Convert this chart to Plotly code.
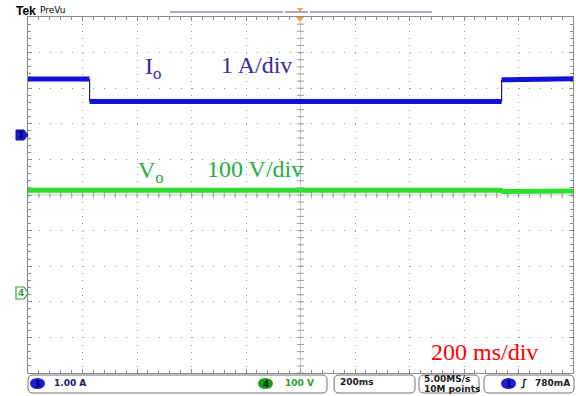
import plotly.graph_objects as go
import numpy as np

# Io (channel 1, 1 A/div): piecewise levels, segment boundaries in ms
io_seg_t0 = [-1000, -774, 738]
io_seg_t1 = [-774, 738, 1000]
io_seg_a0 = [1.57, 0.94, 1.55]
io_seg_a1 = [1.57, 0.94, 1.58]

# Vo (channel 4, 100 V/div)
vo_time = [-1000, -774, -766, -700, -690, 736, 742, 1000]
vo_volt = [288, 288, 291, 291, 288, 288, 285, 286]

# channel ground offsets (divisions from centre)
ch1_offset_div = 1.685
ch4_offset_div = -2.75
io_scale = 1.0     # A/div
vo_scale = 100.0   # V/div

status_labels = ["1.00 A", "100 V", "200ms", "5.00MS/s", "10M points", "780mA"]

# ---------------- helpers ----------------
W, H = 576, 396
L, R, T, B = 28, 3, 17, 23
PW, PH = W - L - R, H - T - B


def PX(x):
    return (x - L) / PW


def PY(y):
    return (H - B - y) / PH


def rrect(x0, y0, x1, y1, r=4):
    a0, a1 = PX(x0), PX(x1)
    b0, b1 = PY(y1), PY(y0)
    rx, ry = r / PW, r / PH
    return (f"M {a0+rx},{b0} L {a1-rx},{b0} Q {a1},{b0} {a1},{b0+ry} "
            f"L {a1},{b1-ry} Q {a1},{b1} {a1-rx},{b1} L {a0+rx},{b1} "
            f"Q {a0},{b1} {a0},{b1-ry} L {a0},{b0+ry} Q {a0},{b0} {a0+rx},{b0} Z")


fig = go.Figure()

# Io thick levels
xs, ys = [], []
for t0, t1, a0, a1 in zip(io_seg_t0, io_seg_t1, io_seg_a0, io_seg_a1):
    xs += [t0, t1, None]
    ys += [a0, a1, None]
fig.add_trace(go.Scatter(x=xs, y=ys, mode="lines", yaxis="y2",
                         line=dict(color="#1212dc", width=5), hoverinfo="skip"))
# Io thin transitions
tx, ty = [], []
for i in range(len(io_seg_t0) - 1):
    tx += [io_seg_t1[i], io_seg_t0[i + 1], None]
    ty += [io_seg_a1[i], io_seg_a0[i + 1], None]
fig.add_trace(go.Scatter(x=tx, y=ty, mode="lines", yaxis="y2",
                         line=dict(color="#202070", width=1.2), hoverinfo="skip"))
# Vo
fig.add_trace(go.Scatter(x=vo_time, y=vo_volt, mode="lines", yaxis="y3",
                         line=dict(color="#2ee02e", width=5), hoverinfo="skip"))

shapes = []
# centre cross lines with ticks
shapes.append(dict(type="line", xref="x", yref="y", x0=-1000, x1=1000, y0=0, y1=0,
                   line=dict(color="#d0d0d0", width=1), layer="below"))
shapes.append(dict(type="line", xref="x", yref="y", x0=0, x1=0, y0=-5, y1=5,
                   line=dict(color="#d0d0d0", width=1), layer="below"))
for t in np.arange(-1000, 1001, 40):
    shapes.append(dict(type="line", xref="x", yref="y", x0=t, x1=t, y0=-0.09, y1=0.09,
                       line=dict(color="#a0a0a0", width=1), layer="below"))
for v in np.arange(-5, 5.01, 0.2):
    shapes.append(dict(type="line", xref="x", yref="y", x0=-13, x1=13, y0=v, y1=v,
                       line=dict(color="#a0a0a0", width=1), layer="below"))

# top record bar
for a, b in [(170, 283), (285, 308), (310, 432)]:
    shapes.append(dict(type="line", xref="paper", yref="paper", x0=PX(a), x1=PX(b),
                       y0=PY(12), y1=PY(12), line=dict(color="#8c8cae", width=1.5)))
# trigger position markers (orange)
shapes.append(dict(type="path", xref="paper", yref="paper",
                   path=f"M {PX(297)},{PY(8)} L {PX(303)},{PY(8)} L {PX(300)},{PY(12)} Z",
                   fillcolor="#f0a030", line=dict(width=0)))
shapes.append(dict(type="path", xref="paper", yref="paper",
                   path=f"M {PX(296)},{PY(17)} L {PX(304)},{PY(17)} L {PX(300)},{PY(22)} Z",
                   fillcolor="#f0a030", line=dict(width=0)))

# left channel markers
shapes.append(dict(type="path", xref="paper", yref="paper",
                   path=(f"M {PX(16)},{PY(130)} L {PX(24)},{PY(130)} L {PX(28)},{PY(135)} "
                         f"L {PX(24)},{PY(140)} L {PX(16)},{PY(140)} Z"),
                   fillcolor="#1c1cd0", line=dict(color="#1010a0", width=1)))
shapes.append(dict(type="path", xref="paper", yref="paper",
                   path=(f"M {PX(16)},{PY(287)} L {PX(24)},{PY(287)} L {PX(28)},{PY(293)} "
                         f"L {PX(24)},{PY(299)} L {PX(16)},{PY(299)} Z"),
                   fillcolor="#ffffff", line=dict(color="#30a040", width=1.2)))

# status bar boxes
for x0, x1 in [(28, 327), (334, 415), (419, 479), (484, 574)]:
    shapes.append(dict(type="path", xref="paper", yref="paper", path=rrect(x0, 375, x1, 393, 5),
                       fillcolor="#ffffff", line=dict(color="#707070", width=1)))
# channel ellipses
for cx0, cx1, col in [(30, 45, "#1c1cd8"), (258, 273, "#1e9a1e"), (501, 516, "#1c1cd8")]:
    shapes.append(dict(type="circle", xref="paper", yref="paper",
                       x0=PX(cx0), x1=PX(cx1), y0=PY(389), y1=PY(378),
                       fillcolor=col, line=dict(width=0)))

anns = []


def txt(x, y, s, size, color, family="DejaVu Sans", xa="left", ya="middle", bold=False):
    if bold:
        s = f"<b>{s}</b>"
    anns.append(dict(x=PX(x), y=PY(y), xref="paper", yref="paper", text=s, showarrow=False,
                     xanchor=xa, yanchor=ya, font=dict(size=size, color=color, family=family)))


txt(14, 11, "Tek", 12, "#000000", bold=True, family="Liberation Sans")
txt(38, 10, "PreVu", 9, "#000000", family="DejaVu Sans")
txt(21, 135, "1", 9, "#000060", xa="center", bold=True)
txt(21, 293, "4", 9, "#30a040", xa="center", bold=True)

txt(37.5, 383.5, "1", 9, "#000050", xa="center", bold=True)
txt(265.5, 383.5, "4", 9, "#003000", xa="center", bold=True)
txt(508.5, 383.5, "1", 9, "#000050", xa="center", bold=True)
txt(52, 383, status_labels[0], 9, "#1a1a6e", bold=True)
txt(283, 383, status_labels[1], 9, "#2a9a2a", bold=True)
txt(338, 382, status_labels[2], 9, "#202020", bold=True)
txt(422, 379, status_labels[3], 9, "#202020", bold=True)
txt(422, 389, status_labels[4], 9, "#202020", bold=True)
txt(524, 383, "∫", 10, "#000000", xa="center", bold=True)
txt(572, 383, status_labels[5], 9, "#202020", xa="right", bold=True)

serif = "Liberation Serif"
txt(143, 68, "I<sub>o</sub>", 24, "#3a2a9c", family=serif)
txt(219, 65, "1 A/div", 24, "#3a2a9c", family=serif)
txt(136, 172, "V<sub>o</sub>", 24, "#20b040", family=serif)
txt(205, 169, "100 V/div", 24, "#20b040", family=serif)
txt(429, 352, "200 ms/div", 24, "#ff0000", family=serif)

grid_col = "#9a9a9a"
frame_col = "#8a8a8a"
fig.update_layout(
    width=W, height=H, margin=dict(l=L, r=R, t=T, b=B),
    paper_bgcolor="white", plot_bgcolor="white", showlegend=False,
    shapes=shapes, annotations=anns,
    xaxis=dict(range=[-1000, 1000], tick0=-1000, dtick=200, showticklabels=False,
               showgrid=True, gridcolor=grid_col, griddash="1px,6.12px", gridwidth=1,
               zeroline=False, showline=True, linecolor=frame_col, linewidth=1, mirror="ticks",
               ticks="inside", ticklen=4, tickcolor=frame_col,
               minor=dict(dtick=40, tick0=-1000, ticks="inside", ticklen=3,
                          tickcolor=frame_col, showgrid=False),
               fixedrange=True),
    yaxis=dict(range=[-5, 5], tick0=-5, dtick=1, showticklabels=False,
               showgrid=True, gridcolor=grid_col, griddash="1px,9.9px", gridwidth=1,
               zeroline=False, showline=True, linecolor=frame_col, linewidth=1, mirror="ticks",
               ticks="inside", ticklen=4, tickcolor=frame_col,
               minor=dict(dtick=0.2, tick0=-5, ticks="inside", ticklen=3,
                          tickcolor=frame_col, showgrid=False),
               fixedrange=True),
    yaxis2=dict(overlaying="y", visible=False, fixedrange=True,
                range=[(-5 - ch1_offset_div) * io_scale, (5 - ch1_offset_div) * io_scale]),
    yaxis3=dict(overlaying="y", visible=False, fixedrange=True,
                range=[(-5 - ch4_offset_div) * vo_scale, (5 - ch4_offset_div) * vo_scale]),
)

fig.write_html("out.html")
